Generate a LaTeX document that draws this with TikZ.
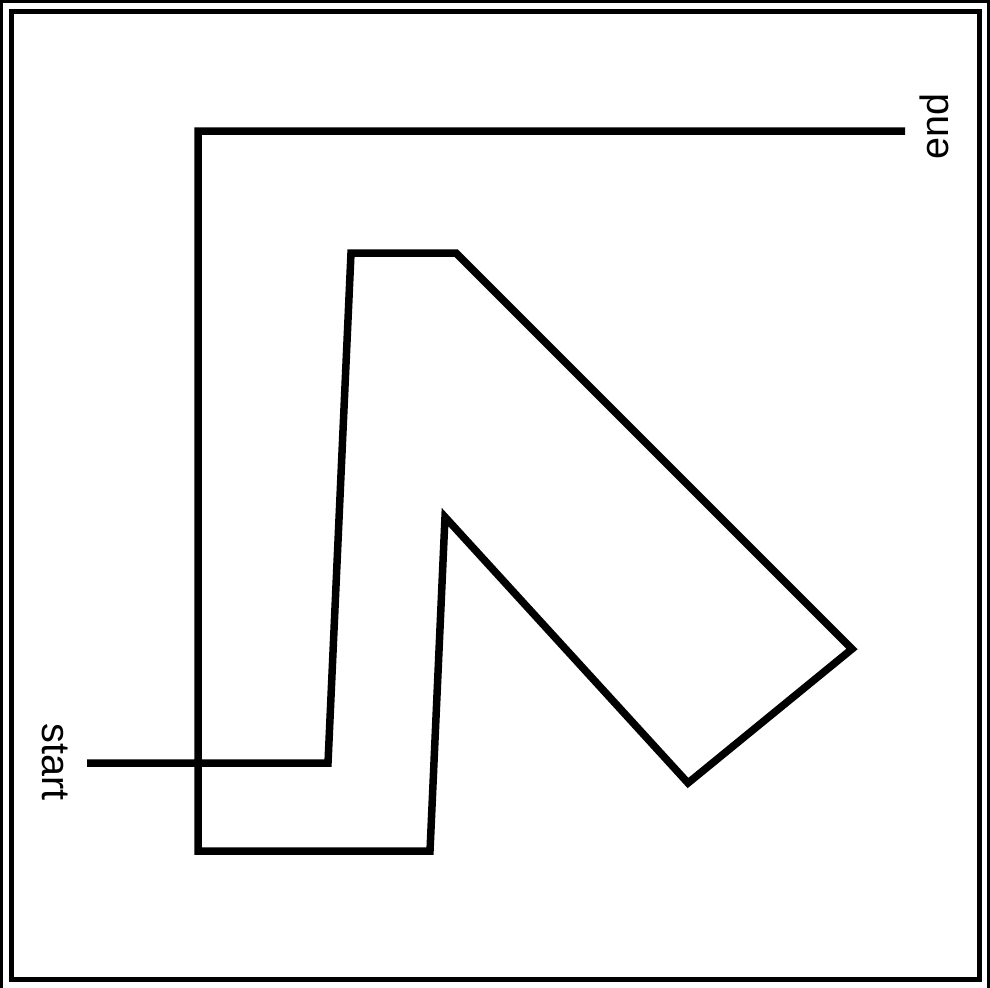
\documentclass[tikz,border=0pt]{standalone}
\usepackage{fontspec}
\setmainfont{Liberation Sans}
\usepackage{tikz}
\usetikzlibrary{positioning}

\tikzset{
    route/.style={line width=0.15cm, miter limit=10},
    label/.style={inner sep=0pt, font=\fontsize{22.5pt}{24pt}\selectfont},
}

\begin{document}
\begin{tikzpicture}[x=0.02cm, y=-0.02cm]
    \useasboundingbox (0,0) rectangle (990,987);

    % frame
    \draw[line width=0.06cm] (1.5,1.5) rectangle (988.5,992);
    \draw[line width=0.1cm] (11.5,11.5) rectangle (979.5,979.5);

    \coordinate (s) at (87,763);
    \coordinate (p1) at (328,763);
    \coordinate (p2) at (351,253);
    \coordinate (p3) at (456,253);
    \coordinate (p4) at (852,649);
    \coordinate (p5) at (688,783);
    \coordinate (p6) at (445,517);
    \coordinate (p7) at (430,851);
    \coordinate (p8) at (198,851);
    \coordinate (p9) at (198,131);
    \coordinate (e) at (905,131);

    \draw[route] (s) -- (p1) -- (p2) -- (p3) -- (p4) -- (p5) -- (p6) -- (p7) -- (p8) -- (p9) -- (e);

    \node[label, rotate=-90, anchor=base west] (start) at (42,723) {start};
    \node[label, rotate=90, anchor=base west] (end) at (948,160) {end};
\end{tikzpicture}
\end{document}
